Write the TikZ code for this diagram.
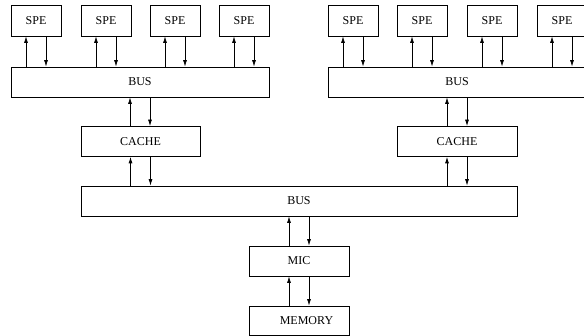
\documentclass[tikz,border=0pt]{standalone}
\usepackage{fontspec}
\setmainfont{Liberation Serif}
\usetikzlibrary{arrows.meta}

% up/down connector pair between an upper node #1 and a lower node #2,
% centred on the x position of anchor #3
\newcommand\linkpair[3]{%
  \draw[arr] ([xshift=-10pt]#3 |- #2.north) -- ([xshift=-10pt]#3 |- #1.south);
  \draw[arr] ([xshift=10pt]#3 |- #1.south) -- ([xshift=10pt]#3 |- #2.north);
}

\begin{document}
\begin{tikzpicture}[x=1pt,y=-1pt,
  box/.style={draw, line width=0.75pt, inner sep=0pt, font=\fontsize{12}{14}\selectfont},
  spebox/.style={box, minimum width=50pt, minimum height=31pt},
  busbox/.style={box, minimum width=258pt, minimum height=30pt},
  cachebox/.style={box, minimum width=119pt, minimum height=30pt},
  arr/.style={line width=0.75pt, -{Latex[length=6.5pt,width=4pt]}}]
\clip (0,0) rectangle (584,336);
\fill[white] (0,0) rectangle (584,336);

% left cluster
\node[spebox] (sa1) at (36,20.5) {SPE};
\node[spebox] (sa2) at (106,20.5) {SPE};
\node[spebox] (sa3) at (175,20.5) {SPE};
\node[spebox] (sa4) at (244,20.5) {SPE};
\node[busbox] (busa) at (140,82) {BUS};
\node[cachebox] (cachea) at (140.5,141.5) {CACHE};

% right cluster
\node[spebox] (sb1) at (353,20.5) {SPE};
\node[spebox] (sb2) at (422,20.5) {SPE};
\node[spebox] (sb3) at (492,20.5) {SPE};
\node[spebox] (sb4) at (562,20.5) {SPE};
\node[busbox] (busb) at (457,82) {BUS};
\node[cachebox, minimum width=120pt] (cacheb) at (457,141.5) {CACHE};

% shared bus, memory interface and memory
\node[box, minimum width=436pt, minimum height=30pt] (bus) at (299,201) {BUS};
\node[box, minimum width=100pt, minimum height=30pt] (mic) at (299,261) {MIC};
\node[box, minimum width=100pt, minimum height=29pt] (mem) at (299,320.5) {\hspace*{15pt}MEMORY};

% connectors
\foreach \s in {sa1,sa2,sa3,sa4} { \linkpair{\s}{busa}{\s.south} }
\foreach \s in {sb1,sb2,sb3,sb4} { \linkpair{\s}{busb}{\s.south} }
\linkpair{busa}{cachea}{busa.south}
\linkpair{busb}{cacheb}{cacheb.north}
\linkpair{cachea}{bus}{cachea.south}
\linkpair{cacheb}{bus}{cacheb.south}
\linkpair{bus}{mic}{mic.north}
\linkpair{mic}{mem}{mic.south}
\end{tikzpicture}
\end{document}
